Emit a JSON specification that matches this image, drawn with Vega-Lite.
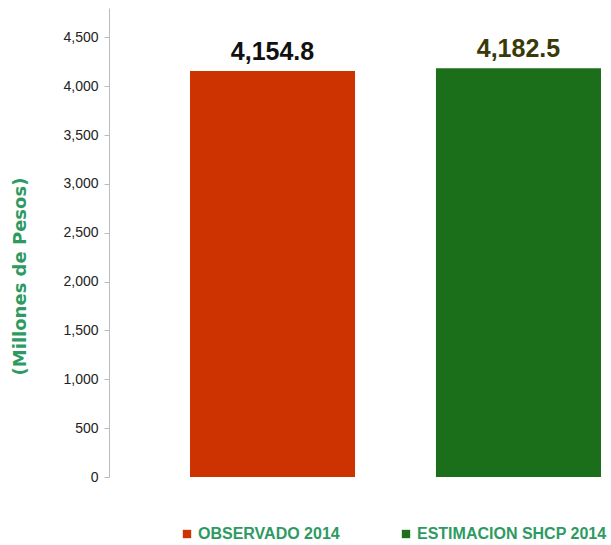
{
  "$schema": "https://vega.github.io/schema/vega-lite/v6.json",
  "width": 502,
  "height": 469,
  "autosize": {"type": "none"},
  "padding": {"left": 109, "top": 8, "right": 0, "bottom": 68},
  "background": "white",
  "data": {"values": [
    {"serie": "OBSERVADO 2014", "valor": 4154.8, "etiqueta": "4,154.8"},
    {"serie": "ESTIMACION SHCP 2014", "valor": 4182.5, "etiqueta": "4,182.5"}
  ]},
  "config": {"view": {"stroke": null}, "font": "Liberation Sans"},
  "encoding": {
    "x": {"field": "serie", "type": "nominal", "sort": null,
      "scale": {"paddingInner": 0.329, "paddingOuter": 0.185, "align": 0.89},
      "axis": null}
  },
  "layer": [
    {
      "mark": {"type": "bar"},
      "encoding": {
        "y": {"field": "valor", "type": "quantitative",
          "scale": {"domain": [0, 4800], "nice": false},
          "axis": {"values": [0,500,1000,1500,2000,2500,3000,3500,4000,4500],
            "format": ",d", "grid": false, "domainColor": "#bbbbbb", "tickColor": "#bbbbbb",
            "tickSize": 5, "labelFontSize": 14, "labelColor": "#222222", "labelPadding": 6,
            "title": "(Millones de Pesos)", "titleColor": "#2e9a62", "titleFontSize": 18,
            "titleFont": "DejaVu Sans",
            "titleFontWeight": "bold", "titleX": -89, "titleY": 268, "titleAngle": -90,
            "titleAlign": "center", "titleBaseline": "middle"}},
        "color": {"field": "serie", "type": "nominal", "sort": null,
          "scale": {"domain": ["OBSERVADO 2014", "ESTIMACION SHCP 2014"], "range": ["#cc3300", "#1b6e1a"]},
          "legend": {"title": null, "orient": "none", "legendX": 70, "legendY": 518, "direction": "horizontal",
            "symbolType": "square", "symbolSize": 70, "labelFontSize": 16, "labelFontWeight": "bold",
            "labelColor": "#2e9a62", "columnPadding": 58, "symbolOpacity": 1, "labelOffset": 3, "labelLimit": 400}}
      }
    },
    {
      "mark": {"type": "text", "baseline": "bottom", "dy": -6, "fontSize": 25, "fontWeight": "bold"},
      "encoding": {
        "y": {"field": "valor", "type": "quantitative"},
        "text": {"field": "etiqueta"},
        "color": {"field": "etiqueta", "type": "nominal",
          "scale": {"domain": ["4,154.8", "4,182.5"], "range": ["#111111", "#3a3a08"]},
          "legend": null}
      }
    }
  ],
  "resolve": {"scale": {"color": "independent"}}
}
